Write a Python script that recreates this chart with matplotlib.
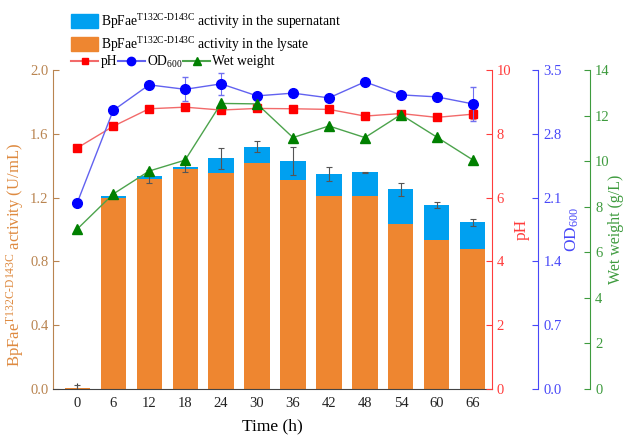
import numpy as np
import matplotlib
matplotlib.use("Agg")
import matplotlib.pyplot as plt
from matplotlib.patches import Patch
from matplotlib.lines import Line2D

plt.rcParams['font.family'] = ['Liberation Serif', 'DejaVu Serif']
plt.rcParams['mathtext.fontset'] = 'custom'
plt.rcParams['mathtext.rm'] = 'Liberation Serif'
plt.rcParams['mathtext.it'] = 'Liberation Serif:italic'
plt.rcParams['font.size'] = 10.5

# data
times = [0, 6, 12, 18, 24, 30, 36, 42, 48, 54, 60, 66]
lysate = [0.005, 1.20, 1.32, 1.38, 1.355, 1.417, 1.31, 1.21, 1.21, 1.034, 0.934, 0.876]
supernatant = [0.0, 0.012, 0.014, 0.013, 0.093, 0.102, 0.122, 0.138, 0.15, 0.218, 0.22, 0.17]
activity_err = [0.02, 0.01, 0.04, 0.03, 0.065, 0.035, 0.088, 0.042, 0.003, 0.042, 0.019, 0.021]
ph = [7.56, 8.24, 8.79, 8.84, 8.75, 8.80, 8.79, 8.77, 8.56, 8.64, 8.52, 8.62]
ph_err = [0.03, 0.05, 0.04, 0.05, 0.04, 0.04, 0.04, 0.04, 0.04, 0.04, 0.04, 0.16]
od600 = [2.044, 3.058, 3.339, 3.29, 3.35, 3.218, 3.248, 3.196, 3.372, 3.229, 3.207, 3.13]
od_err = [0.0, 0.04, 0.0, 0.13, 0.12, 0.02, 0.03, 0.0, 0.0, 0.0, 0.0, 0.19]
wet_weight = [7.02, 8.56, 9.57, 10.05, 12.54, 12.52, 11.04, 11.55, 11.04, 12.05, 11.06, 10.06]

c_orange = '#EE8630'
c_blue = '#00A0F0'
c_left = '#B98450'
c_left_lab = '#DE8A40'
c_ph = '#FF3C3C'
c_od = '#4848F8'
c_ww = '#3E9B3E'

x = np.arange(len(times))
total = np.array(lysate) + np.array(supernatant)

fig = plt.figure(figsize=(6.25, 4.36), dpi=100)
ax = fig.add_axes([0.085, 0.108, 0.702, 0.731])

ax.bar(x, lysate, width=0.7, color=c_orange, zorder=2)
ax.bar(x, supernatant, width=0.7, bottom=lysate, color=c_blue, zorder=2)
ax.errorbar(x, total, yerr=activity_err, fmt='none', ecolor='#555555',
            elinewidth=0.8, capsize=2.5, capthick=0.8, zorder=3)

ax.set_xlim(-0.67, 11.53)
ax.set_ylim(0, 2.0)
ax.set_xticks(x)
ax.set_xticklabels([str(t) for t in times])
ax.set_yticks(np.arange(0, 2.01, 0.4))
ax.set_yticklabels(['%.1f' % v for v in np.arange(0, 2.01, 0.4)])
ax.tick_params(axis='x', direction='in', length=4, pad=6, colors='#333333', labelcolor='#222222')
ax.tick_params(axis='y', direction='in', length=4, colors=c_left, labelcolor=c_left)
ax.spines['top'].set_visible(False)
ax.spines['right'].set_visible(False)
ax.spines['left'].set_color(c_left)
ax.spines['bottom'].set_color('#444444')
ax.set_xlabel('Time (h)', fontsize=12.5, labelpad=6)
ax.set_ylabel(r'BpFae$^{\text{T132C-D143C}}$ activity (U/mL)', color=c_left_lab, fontsize=12)
ax.yaxis.set_label_coords(-0.062, 0.42)


def side_axis(pos, color):
    a = ax.twinx()
    a.spines['right'].set_position(('axes', pos))
    for s in ['top', 'left', 'bottom']:
        a.spines[s].set_visible(False)
    a.spines['right'].set_color(color)
    a.tick_params(axis='y', direction='in', length=4, colors=color, labelcolor=color)
    a.set_xlim(-0.67, 11.53)
    return a


ax_ph = side_axis(1.0, c_ph)
ax_ph.errorbar(x, ph, yerr=ph_err, color='#F26A6A', lw=1, marker='s', ms=6,
               mfc='#FF0000', mec='#FF0000', ecolor='#F07070', elinewidth=0.8,
               capsize=2.5, zorder=4)
ax_ph.set_ylim(0, 10)
ax_ph.set_yticks(range(0, 11, 2))
ax_ph.set_ylabel('pH', color=c_ph, fontsize=12.5, labelpad=2)

ax_od = side_axis(1.106, c_od)
ax_od.errorbar(x, od600, yerr=od_err, color='#6262F0', lw=1, marker='o', ms=7,
               mfc='#0000FF', mec='#0000FF', ecolor='#7070F0', elinewidth=0.8,
               capsize=2.5, zorder=4)
ax_od.set_ylim(0, 3.5)
ax_od.set_yticks(np.arange(0, 3.51, 0.7))
ax_od.set_yticklabels(['%.1f' % v for v in np.arange(0, 3.51, 0.7)])
ax_od.set_ylabel('OD$_{600}$', color=c_od, fontsize=12.5, labelpad=1)

ax_ww = side_axis(1.224, c_ww)
ax_ww.plot(x, wet_weight, color='#4CA34C', lw=1, marker='^', ms=7,
           mfc='#008000', mec='#008000', zorder=4)
ax_ww.set_ylim(0, 14)
ax_ww.set_yticks(range(0, 15, 2))
ax_ww.set_ylabel('Wet weight (g/L)', color=c_ww, fontsize=11.5, labelpad=-1)

bar_handles = [Patch(color=c_blue), Patch(color=c_orange)]
bar_labels = [r'BpFae$^{\text{T132C-D143C}}$ activity in the supernatant',
              r'BpFae$^{\text{T132C-D143C}}$ activity in the lysate']
fig.legend(bar_handles, bar_labels, loc='upper left', bbox_to_anchor=(0.105, 0.985),
           frameon=False, handlelength=2.0, handleheight=1.2, handletextpad=0.2,
           labelspacing=0.3, borderaxespad=0, fontsize=9.8)
line_handles = [Line2D([], [], color='#F26A6A', marker='s', mfc='#FF0000', mec='#FF0000', ms=5),
                Line2D([], [], color='#6262F0', marker='o', mfc='#0000FF', mec='#0000FF', ms=6),
                Line2D([], [], color='#4CA34C', marker='^', mfc='#008000', mec='#008000', ms=6)]
fig.legend(line_handles, ['pH', 'OD$_{600}$', 'Wet weight'], loc='upper left',
           bbox_to_anchor=(0.105, 0.89), ncol=3, frameon=False, handlelength=2.0,
           handletextpad=0.15, columnspacing=0.05, borderaxespad=0, fontsize=9.8)

fig.savefig('out.png', dpi=100)
